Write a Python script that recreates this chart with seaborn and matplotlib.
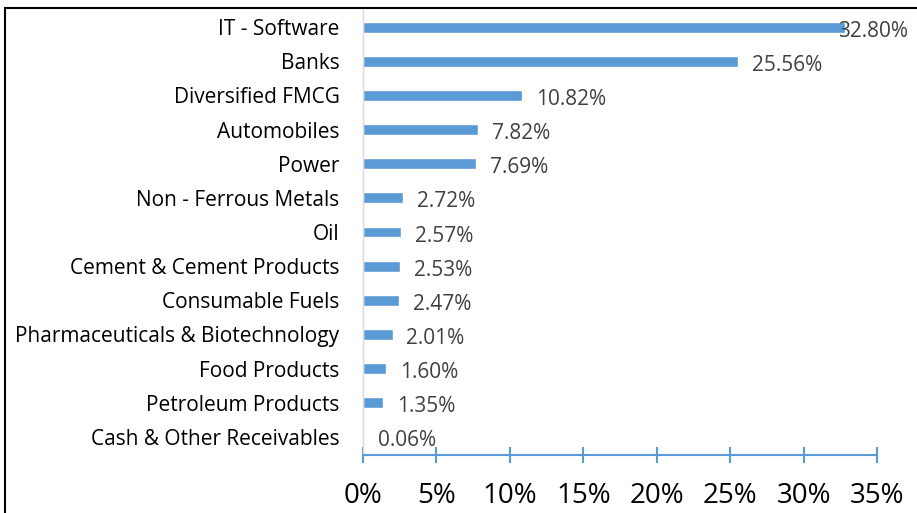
import matplotlib
matplotlib.use("Agg")
import matplotlib.pyplot as plt
import seaborn as sns
import pandas as pd
from matplotlib.patches import Rectangle

categories = ["IT - Software", "Banks", "Diversified FMCG", "Automobiles", "Power",
              "Non - Ferrous Metals", "Oil", "Cement & Cement Products",
              "Consumable Fuels", "Pharmaceuticals & Biotechnology", "Food Products",
              "Petroleum Products", "Cash & Other Receivables"]
values = [32.80, 25.56, 10.82, 7.82, 7.69, 2.72, 2.57, 2.53, 2.47, 2.01, 1.60, 1.35, 0.06]
xticks = [0, 5, 10, 15, 20, 25, 30, 35]

df = pd.DataFrame({"category": categories, "value": values})

sns.set_theme(style="white")
plt.rcParams["font.family"] = ["Open Sans", "DejaVu Sans"]

fig = plt.figure(figsize=(9.17, 5.13), dpi=100)
ax = fig.add_axes([363/917, 1-455/513, (877-363)/917, (455-10)/513])

bar_color = "#5B9BD5"
sns.barplot(data=df, x="value", y="category", orient="h", color=bar_color,
            width=0.32, ax=ax, saturation=1)

ax.set_xlim(0, 35)
ax.set_ylim(12.53, -0.5)
ax.set_xticks(xticks)
ax.set_xticklabels([f"{t}%" for t in xticks], fontsize=20, color="black")
ax.set_xlabel("")
ax.set_ylabel("")
ax.tick_params(axis="y", length=0, labelsize=15, pad=17, labelcolor="black")
ax.tick_params(axis="x", bottom=True, direction="inout", length=11, width=1.5,
               color=bar_color, pad=14)

for s in ["top", "right"]:
    ax.spines[s].set_visible(False)
ax.spines["bottom"].set_color(bar_color)
ax.spines["bottom"].set_linewidth(1.5)
ax.spines["left"].set_color("#D9D9D9")
ax.spines["left"].set_linewidth(1.0)

for i, v in enumerate(values):
    xpos = min(v + 0.95, 32.34)
    ax.text(xpos, i + 0.12, f"{v:.2f}%", va="center", ha="left", fontsize=15, color="#404040")

fig.patches.append(Rectangle((5/917, -0.2), 1.0, 1.2 - 8/513, transform=fig.transFigure,
                             fill=False, edgecolor="black", linewidth=1.5))

fig.savefig("out.png", dpi=100)
